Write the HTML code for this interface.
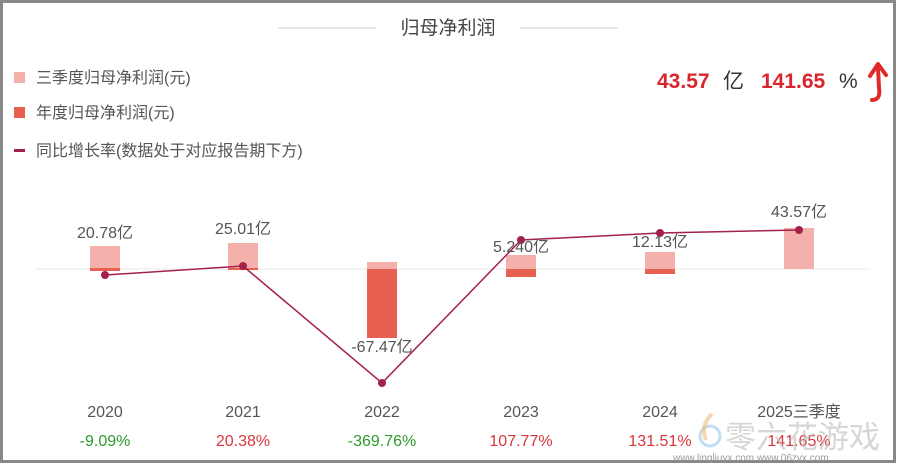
<!DOCTYPE html>
<html><head><meta charset="utf-8"><style>
body{margin:0;background:#fff;}
svg{display:block;font-family:"Liberation Sans","Noto Sans CJK SC",sans-serif;}
</style></head><body>
<svg width="900" height="466" viewBox="0 0 900 466">
<rect x="1.5" y="1.5" width="893" height="460" fill="#fff" stroke="#888" stroke-width="3"/>
<line x1="278" y1="28" x2="376" y2="28" stroke="#ccc"/>
<line x1="520" y1="28" x2="618" y2="28" stroke="#ccc"/>
<text x="448" y="34" font-size="19" fill="#444" text-anchor="middle">归母净利润</text>
<rect x="14" y="72" width="11" height="11" fill="#f4b0aa"/>
<text x="36" y="83" font-size="16" fill="#555">三季度归母净利润(元)</text>
<rect x="14" y="107" width="11" height="11" fill="#e8604f"/>
<text x="36" y="118" font-size="16" fill="#555">年度归母净利润(元)</text>
<rect x="14" y="149" width="11" height="3" fill="#a3214a"/>
<text x="36" y="156" font-size="16" fill="#555">同比增长率(数据处于对应报告期下方)</text>
<text x="657" y="88" font-size="21" font-weight="bold" fill="#d9262c">43.57</text>
<text x="723" y="88" font-size="21" fill="#333">亿</text>
<text x="761" y="88" font-size="21" font-weight="bold" fill="#d9262c">141.65</text>
<text x="839" y="88" font-size="21" fill="#333">%</text>
<path d="M872 100 Q881 100 879 88 L878 68" stroke="#e02a2a" stroke-width="4" fill="none" stroke-linecap="round"/>
<path d="M870 76 L878 64 L886 75" stroke="#e02a2a" stroke-width="4" fill="none" stroke-linecap="round" stroke-linejoin="round"/>
<line x1="35" y1="269" x2="870" y2="269" stroke="#e8e8e8"/>
<g fill="#f4b0aa">
<rect x="90" y="246" width="30" height="23"/>
<rect x="228" y="243" width="30" height="26"/>
<rect x="367" y="262" width="30" height="7"/>
<rect x="506" y="255" width="30" height="14"/>
<rect x="645" y="252" width="30" height="17"/>
<rect x="784" y="228" width="30" height="41"/>
</g>
<g fill="#e8604f">
<rect x="90" y="268" width="30" height="3"/>
<rect x="228" y="268" width="30" height="2"/>
<rect x="367" y="269" width="30" height="69"/>
<rect x="506" y="269" width="30" height="8"/>
<rect x="645" y="269" width="30" height="5"/>
</g>
<polyline points="105,275 243,266 382,383 521,240 660,233 799,230" fill="none" stroke="#a3214a" stroke-width="1.5"/>
<g fill="#a3214a">
<circle cx="105" cy="275" r="4"/><circle cx="243" cy="266" r="4"/><circle cx="382" cy="383" r="4"/>
<circle cx="521" cy="240" r="4"/><circle cx="660" cy="233" r="4"/><circle cx="799" cy="230" r="4"/>
</g>
<g font-size="16" fill="#555" text-anchor="middle">
<text x="105" y="238">20.78亿</text>
<text x="243" y="234">25.01亿</text>
<text x="382" y="352">-67.47亿</text>
<text x="521" y="252">5.240亿</text>
<text x="660" y="247">12.13亿</text>
<text x="799" y="217">43.57亿</text>
<text x="105" y="417">2020</text>
<text x="243" y="417">2021</text>
<text x="382" y="417">2022</text>
<text x="521" y="417">2023</text>
<text x="660" y="417">2024</text>
<text x="799" y="417">2025三季度</text>
</g>
<g font-size="16" text-anchor="middle">
<text x="105" y="446" fill="#2a9a2a">-9.09%</text>
<text x="243" y="446" fill="#d9363c">20.38%</text>
<text x="382" y="446" fill="#2a9a2a">-369.76%</text>
<text x="521" y="446" fill="#d9363c">107.77%</text>
<text x="660" y="446" fill="#d9363c">131.51%</text>
<text x="799" y="446" fill="#d9363c">141.65%</text>
</g>
<circle cx="710" cy="436" r="10" fill="none" stroke="#9cc8e8" stroke-width="3" opacity="0.6"/>
<path d="M712 414 Q700 425 706 440" stroke="#f0b060" stroke-width="4" fill="none" opacity="0.5"/>
<text x="725" y="448" font-size="31" fill="#bbb" opacity="0.6">零六花游戏</text>
<text x="673" y="461" font-size="10" fill="#999">www.lingliuyx.com  www.06zyx.com</text>
</svg>
</body></html>
